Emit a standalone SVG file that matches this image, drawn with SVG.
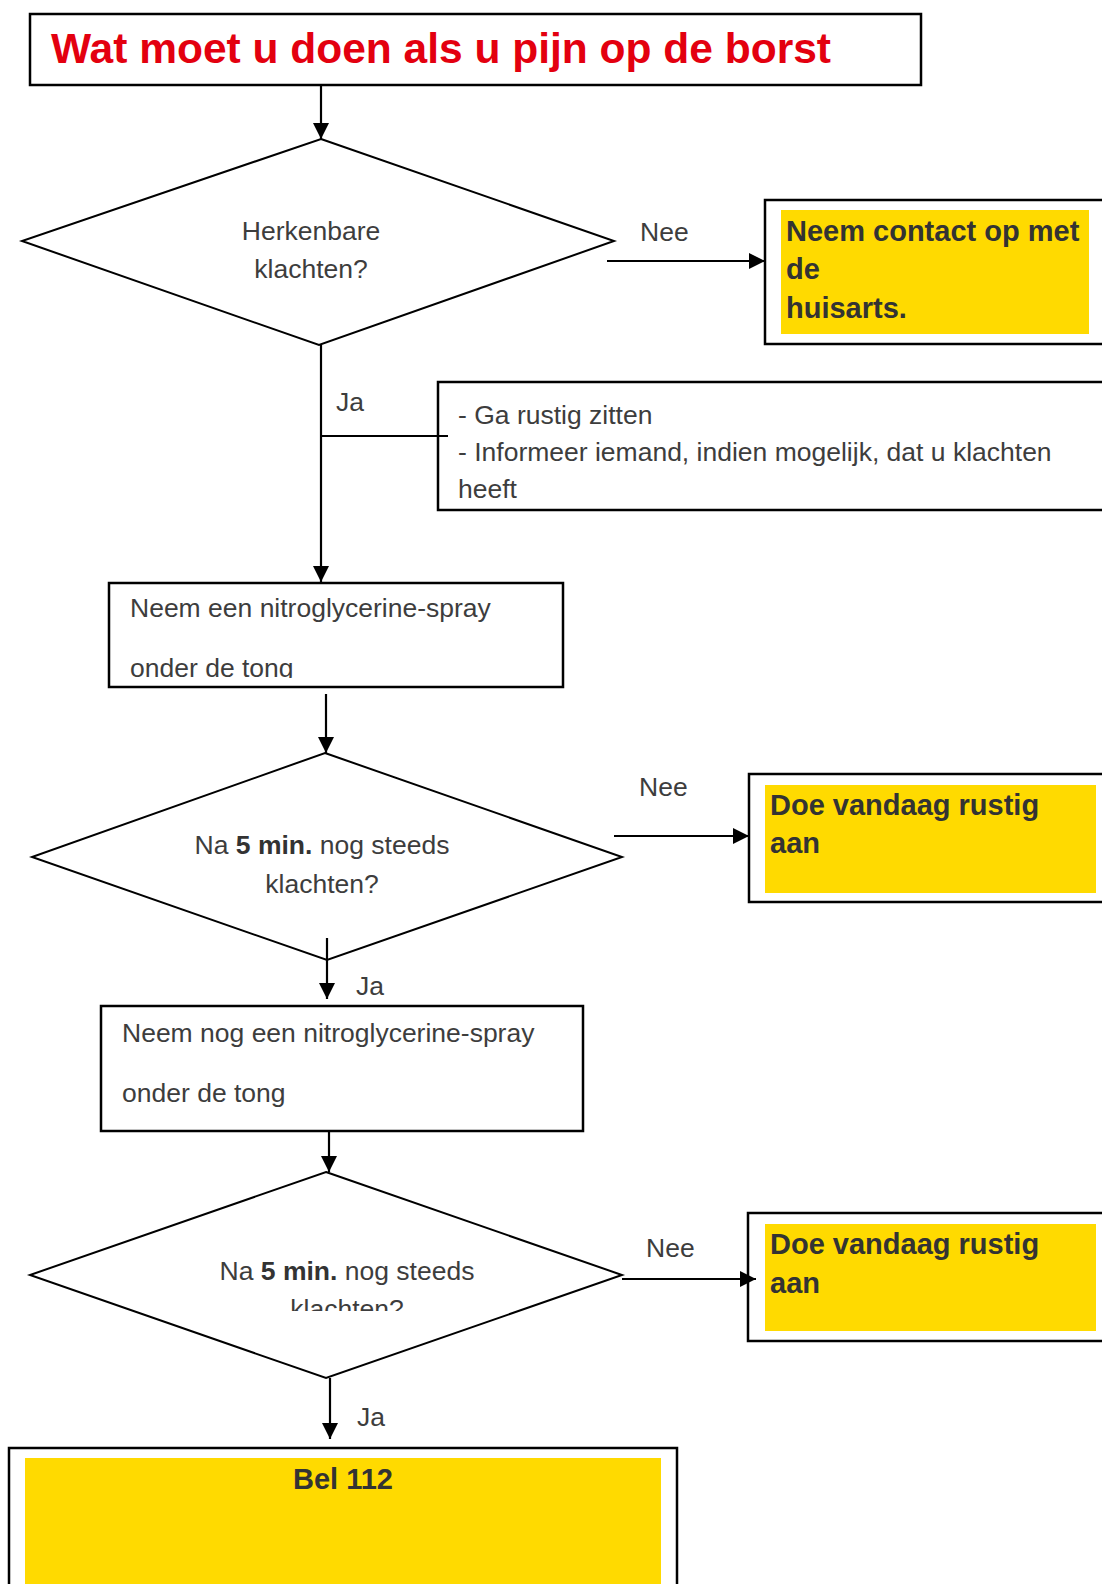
<svg xmlns="http://www.w3.org/2000/svg" width="1102" height="1584" viewBox="0 0 1102 1584">
<style>
.bx{fill:#fff;stroke:#000;stroke-width:2.5}
.dm{fill:#fff;stroke:#000;stroke-width:2}
.yl{fill:#FFDA00}
.t{font-family:"Liberation Sans",Arial,sans-serif;font-size:26.5px;fill:#3d3d3d}
.b{font-family:"Liberation Sans",Arial,sans-serif;font-size:29px;font-weight:bold;fill:#333}
.tb{font-weight:bold;fill:#333}
.ttl{font-family:"Liberation Sans",Arial,sans-serif;font-size:42.5px;font-weight:bold;fill:#E3000F}
.c{fill:none;stroke:#000;stroke-width:2.2}
</style>
<defs>
<marker id="ah" viewBox="0 0 16 16" refX="16" refY="8" markerWidth="16" markerHeight="16" markerUnits="userSpaceOnUse" orient="auto">
<path d="M0,0 L16,8 L0,16 z" fill="#000"/>
</marker>
<clipPath id="clipB2"><rect x="109" y="583" width="454" height="95"/></clipPath>
<clipPath id="clipD3"><rect x="0" y="1170" width="700" height="141"/></clipPath>
</defs>

<g id="title">
<rect class="bx" x="30" y="14" width="891" height="71"/>
<text class="ttl" x="51" y="63">Wat moet u doen als u pijn op de borst</text>
</g>

<g id="d1">
<polygon class="dm" points="321,139 614,241 319,345 22,241"/>
<text class="t" x="311" y="240" text-anchor="middle">Herkenbare</text>
<text class="t" x="311" y="278" text-anchor="middle">klachten?</text>
</g>

<g id="huisarts">
<rect class="bx" x="765" y="200" width="360" height="144" stroke-width="3"/>
<rect class="yl" x="781" y="210" width="308" height="124"/>
<text class="b" x="786" y="241">Neem contact op met</text>
<text class="b" x="786" y="279">de</text>
<text class="b" x="786" y="318">huisarts.</text>
</g>

<g id="rustig1">
<rect class="bx" x="438" y="382" width="700" height="128"/>
<text class="t" x="458" y="424">- Ga rustig zitten</text>
<text class="t" x="458" y="461">- Informeer iemand, indien mogelijk, dat u klachten</text>
<text class="t" x="458" y="498">heeft</text>
</g>

<g id="spray1">
<rect class="bx" x="109" y="583" width="454" height="104"/>
<g clip-path="url(#clipB2)">
<text class="t" x="130" y="617">Neem een nitroglycerine-spray</text>
<text class="t" x="130" y="677">onder de tong</text>
</g>
</g>

<g id="d2">
<polygon class="dm" points="325,753 622,857 327,960 32,857"/>
<text class="t" x="322" y="854" text-anchor="middle">Na <tspan class="tb">5 min.</tspan> nog steeds</text>
<text class="t" x="322" y="893" text-anchor="middle">klachten?</text>
</g>

<g id="rustig2">
<rect class="bx" x="749" y="774" width="400" height="128" stroke-width="3"/>
<rect class="yl" x="765" y="785" width="331" height="108"/>
<text class="b" x="770" y="815">Doe vandaag rustig</text>
<text class="b" x="770" y="853">aan</text>
</g>

<g id="spray2">
<rect class="bx" x="101" y="1006" width="482" height="125"/>
<text class="t" x="122" y="1042">Neem nog een nitroglycerine-spray</text>
<text class="t" x="122" y="1102">onder de tong</text>
</g>

<g id="d3">
<polygon class="dm" points="326,1172 622,1275 326,1378 30,1275"/>
<g clip-path="url(#clipD3)">
<text class="t" x="347" y="1280" text-anchor="middle">Na <tspan class="tb">5 min.</tspan> nog steeds</text>
<text class="t" x="347" y="1318" text-anchor="middle">klachten?</text>
</g>
</g>

<g id="rustig3">
<rect class="bx" x="748" y="1213" width="400" height="128" stroke-width="3"/>
<rect class="yl" x="765" y="1224" width="331" height="107"/>
<text class="b" x="770" y="1254">Doe vandaag rustig</text>
<text class="b" x="770" y="1293">aan</text>
</g>

<g id="bel112">
<rect class="bx" x="9" y="1448" width="668" height="160" stroke-width="3"/>
<rect class="yl" x="25" y="1458" width="636" height="126"/>
<text class="b" x="343" y="1489" text-anchor="middle">Bel 112</text>
</g>

<g id="connectors">
<line class="c" x1="321" y1="86" x2="321" y2="139" marker-end="url(#ah)"/>
<line class="c" x1="607" y1="261" x2="765" y2="261" marker-end="url(#ah)"/>
<text class="t" x="640" y="241">Nee</text>
<line class="c" x1="321" y1="345" x2="321" y2="582" marker-end="url(#ah)"/>
<line class="c" x1="321" y1="436" x2="448" y2="436"/>
<text class="t" x="336" y="411">Ja</text>
<line class="c" x1="326" y1="694" x2="326" y2="753" marker-end="url(#ah)"/>
<line class="c" x1="614" y1="836" x2="749" y2="836" marker-end="url(#ah)"/>
<text class="t" x="639" y="796">Nee</text>
<line class="c" x1="327" y1="938" x2="327" y2="999" marker-end="url(#ah)"/>
<text class="t" x="356" y="995">Ja</text>
<line class="c" x1="329" y1="1131" x2="329" y2="1172" marker-end="url(#ah)"/>
<line class="c" x1="622" y1="1279" x2="756" y2="1279" marker-end="url(#ah)"/>
<text class="t" x="646" y="1257">Nee</text>
<line class="c" x1="330" y1="1378" x2="330" y2="1439" marker-end="url(#ah)"/>
<text class="t" x="357" y="1426">Ja</text>
</g>
</svg>
